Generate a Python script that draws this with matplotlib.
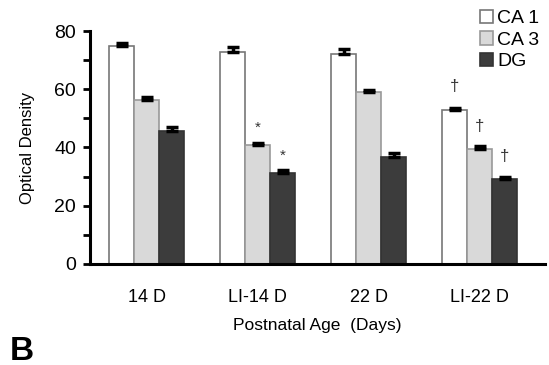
import matplotlib
matplotlib.use("Agg")
import matplotlib.pyplot as plt
import numpy as np

plt.rcParams['font.family'] = ['Liberation Sans', 'DejaVu Sans']

groups = ["14 D", "LI-14 D", "22 D", "LI-22 D"]
series = ["CA 1", "CA 3", "DG"]
ca1 = [75, 72.8, 72.2, 52.8]
ca3 = [56.3, 40.9, 58.9, 39.3]
dg = [45.6, 31.2, 36.6, 29.0]
ca1_err = [0.8, 1.8, 1.6, 0.8]
ca3_err = [0.9, 0.8, 1.0, 1.2]
dg_err = [1.3, 1.0, 1.5, 1.0]
marks = {(1, 1): "*", (1, 2): "*", (3, 0): "†", (3, 1): "†", (3, 2): "†"}

colors = ["#ffffff", "#d9d9d9", "#3c3c3c"]
edges = ["#777777", "#999999", "#333333"]

fig = plt.figure(figsize=(5.49, 3.65), dpi=100)
ax = fig.add_axes([0.164, 0.277, 0.829, 0.638])

x = np.arange(len(groups))
w = 0.225
vals = [ca1, ca3, dg]
errs = [ca1_err, ca3_err, dg_err]
for k in range(3):
    pos = x + (k - 1) * w
    ax.bar(pos, vals[k], w, color=colors[k], edgecolor=edges[k], linewidth=1.2,
           label=series[k], zorder=2)
    ax.errorbar(pos, vals[k], yerr=[np.zeros(4), errs[k]], fmt='none', ecolor='black',
                elinewidth=2.5, capsize=4.5, capthick=2.5, zorder=3)
    for i in range(4):
        if (i, k) in marks:
            m = marks[(i, k)]
            off = 8 if m == "†" else 6
            ax.text(pos[i], vals[k][i] + off, m, ha='center', va='center',
                    fontsize=12 if m == "†" else 11, color='#333333')

ax.set_xlim(-0.51, 3.59)
ax.set_ylim(0, 80)
ax.set_yticks([0, 20, 40, 60, 80])
ax.set_yticks([10, 30, 50, 70], minor=True)
ax.tick_params(axis='y', which='both', direction='out', width=2, length=5, labelsize=14, pad=5)
ax.tick_params(axis='x', length=0, labelsize=13, pad=18)
ax.set_xticks(x)
ax.set_xticklabels(groups)
for s in ['top', 'right']:
    ax.spines[s].set_visible(False)
ax.spines['left'].set_linewidth(2.2)
ax.spines['bottom'].set_linewidth(2.2)
ax.set_ylabel("Optical Density", fontsize=12, labelpad=14)
ax.set_xlabel("Postnatal Age  (Days)", fontsize=12.5, labelpad=9)

leg = fig.legend(loc='upper right', bbox_to_anchor=(1.0, 1.0), frameon=False, fontsize=14,
                 handlelength=0.7, handleheight=0.7, handletextpad=0.2, labelspacing=0.2,
                 borderaxespad=0.1)
fig.text(0.018, 0.015, "B", fontsize=24, fontweight='bold')

fig.savefig("out.png", dpi=100)
